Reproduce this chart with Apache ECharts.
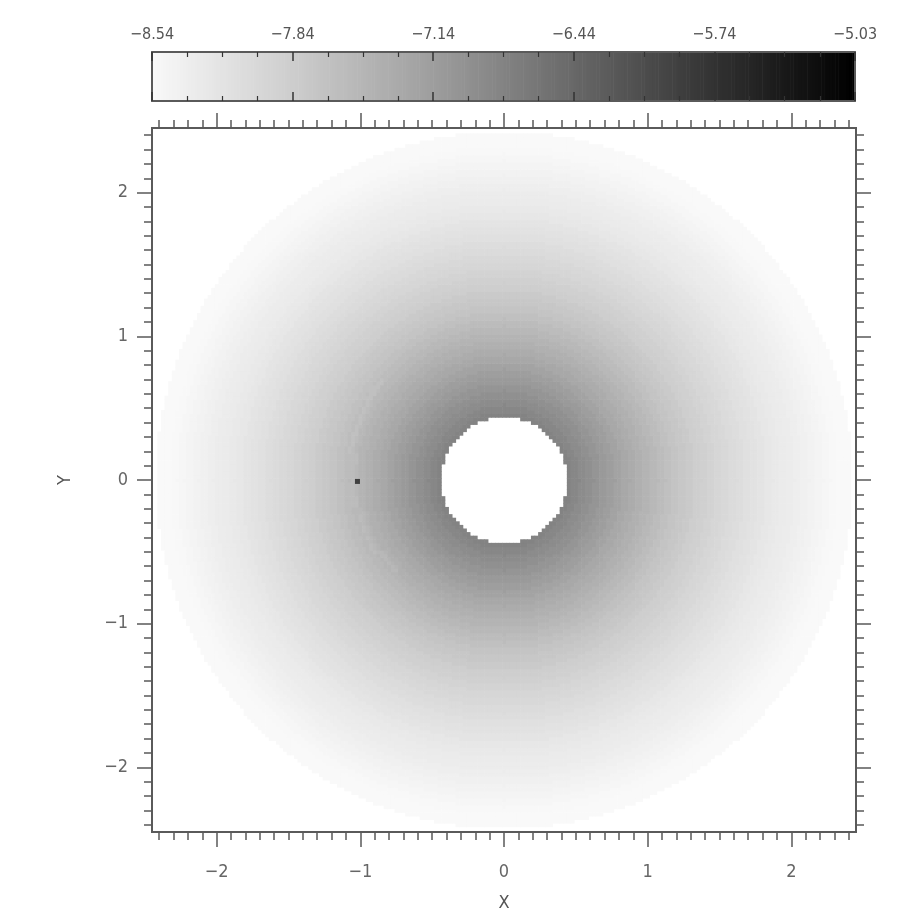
<!DOCTYPE html>
<html>
<head>
<meta charset="utf-8">
<script src="https://cdn.jsdelivr.net/npm/echarts@6/dist/echarts.min.js"></script>
<style>
html,body{margin:0;padding:0;background:#fff;}
#chart{width:912px;height:916px;}
</style>
</head>
<body>
<div id="chart"></div>
<script>
// ---- data ----
// radial profile of log density (centre at origin), read off the gray levels
const radii = [0.45,0.50,0.55,0.60,0.65,0.70,0.75,0.80,0.85,0.90,
               0.95,1.00,1.05,1.10,1.15,1.20,1.25,1.30,1.35,1.40,
               1.45,1.50,1.55,1.60,1.65,1.70,1.75,1.80,1.85,1.90,
               1.95,2.00,2.05,2.10,2.15,2.20,2.25,2.30,2.35,2.40];
const logDensity = [-6.78,-6.84,-6.90,-6.96,-7.02,-7.08,-7.14,-7.21,-7.28,-7.34,
                    -7.40,-7.46,-7.52,-7.58,-7.64,-7.70,-7.75,-7.80,-7.85,-7.89,
                    -7.94,-7.98,-8.02,-8.06,-8.10,-8.14,-8.18,-8.21,-8.25,-8.28,
                    -8.31,-8.34,-8.37,-8.40,-8.43,-8.46,-8.49,-8.52,-8.54,-8.56];
const holeRadius = 0.44;
// faint lighter wake arc on the left side (angle in degrees, radius)
const wakeAngles = [140, 160, 180, 200, 220];
const wakeRadii  = [1.10, 1.08, 1.05, 1.02, 0.98];
const wakeDelta = -0.07;
const planet = [[-1.02, -0.01]];
const colorbarTicks = [-8.54, -7.84, -7.14, -6.44, -5.74, -5.03];
const xMajorTicks = [-2, -1, 0, 1, 2];
const yMajorTicks = [-2, -1, 0, 1, 2];
const axisRange = [-2.45, 2.45];

// ---- build field cells from the radial profile ----
const cellStep = 0.025;
const cells = [];
const kMax = Math.floor(axisRange[1] / cellStep);
const rOuter = radii[radii.length - 1] + 0.025;
function nearestIndex(arr, v) {
  let best = 0, bd = Infinity;
  for (let i = 0; i < arr.length; i++) {
    const d = Math.abs(arr[i] - v);
    if (d < bd) { bd = d; best = i; }
  }
  return best;
}
for (let i = -kMax; i <= kMax; i++) {
  for (let j = -kMax; j <= kMax; j++) {
    const x = i * cellStep, y = j * cellStep;
    const r = Math.sqrt(x * x + y * y);
    if (r < holeRadius || r > rOuter) continue;
    let v = logDensity[nearestIndex(radii, r)];
    let ang = Math.atan2(y, x) * 180 / Math.PI;
    if (ang < 0) ang += 360;
    if (ang >= wakeAngles[0] && ang <= wakeAngles[wakeAngles.length - 1]) {
      const wr = wakeRadii[nearestIndex(wakeAngles, ang)];
      if (Math.abs(r - wr) < 0.02) v += wakeDelta;
    }
    cells.push([x, y, v]);
  }
}

// colour bar strips (normalised position 0..5 across the bar)
const nSeg = colorbarTicks.length - 1;
const nStrip = 250;
const cbStrips = [];
for (let s = 0; s < nStrip; s++) {
  const t = (s + 0.5) / nStrip;
  cbStrips.push([t * nSeg, 0.5, colorbarTicks[0] + t * (colorbarTicks[nSeg] - colorbarTicks[0])]);
}

// minor ticks every 0.1
const minorTicks = [];
for (let k = -24; k <= 24; k++) minorTicks.push(k / 10);

const FONT = "'Liberation Sans Narrow','DejaVu Sans Condensed','Liberation Sans',sans-serif";
const AX = '#5a5a5a';
const minus = s => String(s).replace('-', '\u2212');

function frameAxis(opts) {
  const major = opts.major;
  return Object.assign({
    type: 'value',
    gridIndex: 0,
    min: axisRange[0], max: axisRange[1],
    z: 10,
    axisLine: { show: true, onZero: false, lineStyle: { color: AX, width: 2 } },
    axisTick: {
      show: true, inside: false,
      length: major ? 15 : 8,
      customValues: major ? xMajorTicks : minorTicks,
      lineStyle: { color: AX, width: 1.5 }
    },
    axisLabel: { show: false },
    splitLine: { show: false }
  }, opts.extra || {});
}

const labelStyle = { show: true, color: '#666', fontFamily: FONT, fontSize: 18, formatter: v => minus(v) };

function cbAxis(pos, withLabels) {
  return {
    type: 'value', gridIndex: 1, position: pos, min: 0, max: nSeg, interval: 1, z: 10,
    axisLine: { show: true, onZero: false, lineStyle: { color: AX, width: 2 } },
    axisTick: { show: true, inside: true, length: 9, lineStyle: { color: '#333', width: 1.5 } },
    minorTick: { show: true, splitNumber: 4, length: 5, lineStyle: { color: '#333', width: 1.2 } },
    axisLabel: withLabels ? { show: true, margin: 9, color: '#555', fontFamily: FONT, fontSize: 16,
                 formatter: v => minus(colorbarTicks[Math.round(v)].toFixed(2)) } : { show: false },
    splitLine: { show: false }
  };
}

const option = {
  animation: false,
  backgroundColor: '#ffffff',
  grid: [
    { left: 152, top: 128, width: 704, height: 704, outerBoundsMode: 'none', containLabel: false },
    { left: 152, top: 52, width: 703, height: 49, outerBoundsMode: 'none', containLabel: false }
  ],
  visualMap: {
    show: false,
    type: 'continuous',
    min: colorbarTicks[0], max: colorbarTicks[nSeg],
    dimension: 2,
    seriesIndex: [0, 1],
    inRange: { color: ['#f9f9f9', '#cdcdcd', '#9e9e9e', '#686868', '#323232', '#000000'] },
    outOfRange: { color: ['#ffffff'] }
  },
  xAxis: [
    frameAxis({ major: true, extra: {
      position: 'bottom',
      axisLabel: Object.assign({}, labelStyle, { customValues: xMajorTicks, margin: 31 }),
      name: 'X', nameLocation: 'middle', nameGap: 62,
      nameTextStyle: { color: '#555', fontFamily: FONT, fontSize: 18 }
    } }),
    frameAxis({ major: false, extra: { position: 'bottom' } }),
    frameAxis({ major: true, extra: { position: 'top' } }),
    frameAxis({ major: false, extra: { position: 'top' } }),
    cbAxis('top', true),
    cbAxis('bottom', false)
  ],
  yAxis: [
    frameAxis({ major: true, extra: {
      position: 'left',
      axisLabel: Object.assign({}, labelStyle, { customValues: yMajorTicks, margin: 24 }),
      name: 'Y', nameLocation: 'middle', nameGap: 78, nameRotate: 90,
      nameTextStyle: { color: '#555', fontFamily: FONT, fontSize: 18 }
    } }),
    frameAxis({ major: false, extra: { position: 'left' } }),
    frameAxis({ major: true, extra: { position: 'right' } }),
    frameAxis({ major: false, extra: { position: 'right' } }),
    { type: 'value', gridIndex: 1, position: 'left', min: 0, max: 1, z: 10,
      axisLine: { show: true, onZero: false, lineStyle: { color: AX, width: 2 } },
      axisTick: { show: false }, axisLabel: { show: false }, splitLine: { show: false } },
    { type: 'value', gridIndex: 1, position: 'right', min: 0, max: 1, z: 10,
      axisLine: { show: true, onZero: false, lineStyle: { color: AX, width: 2 } },
      axisTick: { show: false }, axisLabel: { show: false }, splitLine: { show: false } }
  ],
  series: [
    {
      type: 'custom', xAxisIndex: 0, yAxisIndex: 0, silent: true,
      progressive: 0, animation: false, z: 1,
      data: cells,
      encode: { x: 0, y: 1 },
      renderItem: function (params, api) {
        const h = cellStep / 2;
        const p0 = api.coord([api.value(0) - h, api.value(1) + h]);
        const p1 = api.coord([api.value(0) + h, api.value(1) - h]);
        return { type: 'rect',
          shape: { x: p0[0], y: p0[1], width: p1[0] - p0[0] + 0.6, height: p1[1] - p0[1] + 0.6 },
          style: { fill: api.visual('color') } };
      }
    },
    {
      type: 'custom', xAxisIndex: 4, yAxisIndex: 4, silent: true,
      progressive: 0, animation: false, z: 1,
      data: cbStrips,
      encode: { x: 0, y: 1 },
      renderItem: function (params, api) {
        const w = nSeg / nStrip / 2;
        const p0 = api.coord([api.value(0) - w, 1]);
        const p1 = api.coord([api.value(0) + w, 0]);
        return { type: 'rect',
          shape: { x: p0[0], y: p0[1], width: p1[0] - p0[0] + 0.6, height: p1[1] - p0[1] },
          style: { fill: api.visual('color') } };
      }
    },
    {
      type: 'scatter', xAxisIndex: 0, yAxisIndex: 0, silent: true,
      data: planet, symbol: 'rect', symbolSize: 5,
      itemStyle: { color: '#222' }, z: 5
    }
  ]
};

const chart = echarts.init(document.getElementById('chart'), null, { renderer: 'canvas' });
chart.setOption(option);
</script>
</body>
</html>
